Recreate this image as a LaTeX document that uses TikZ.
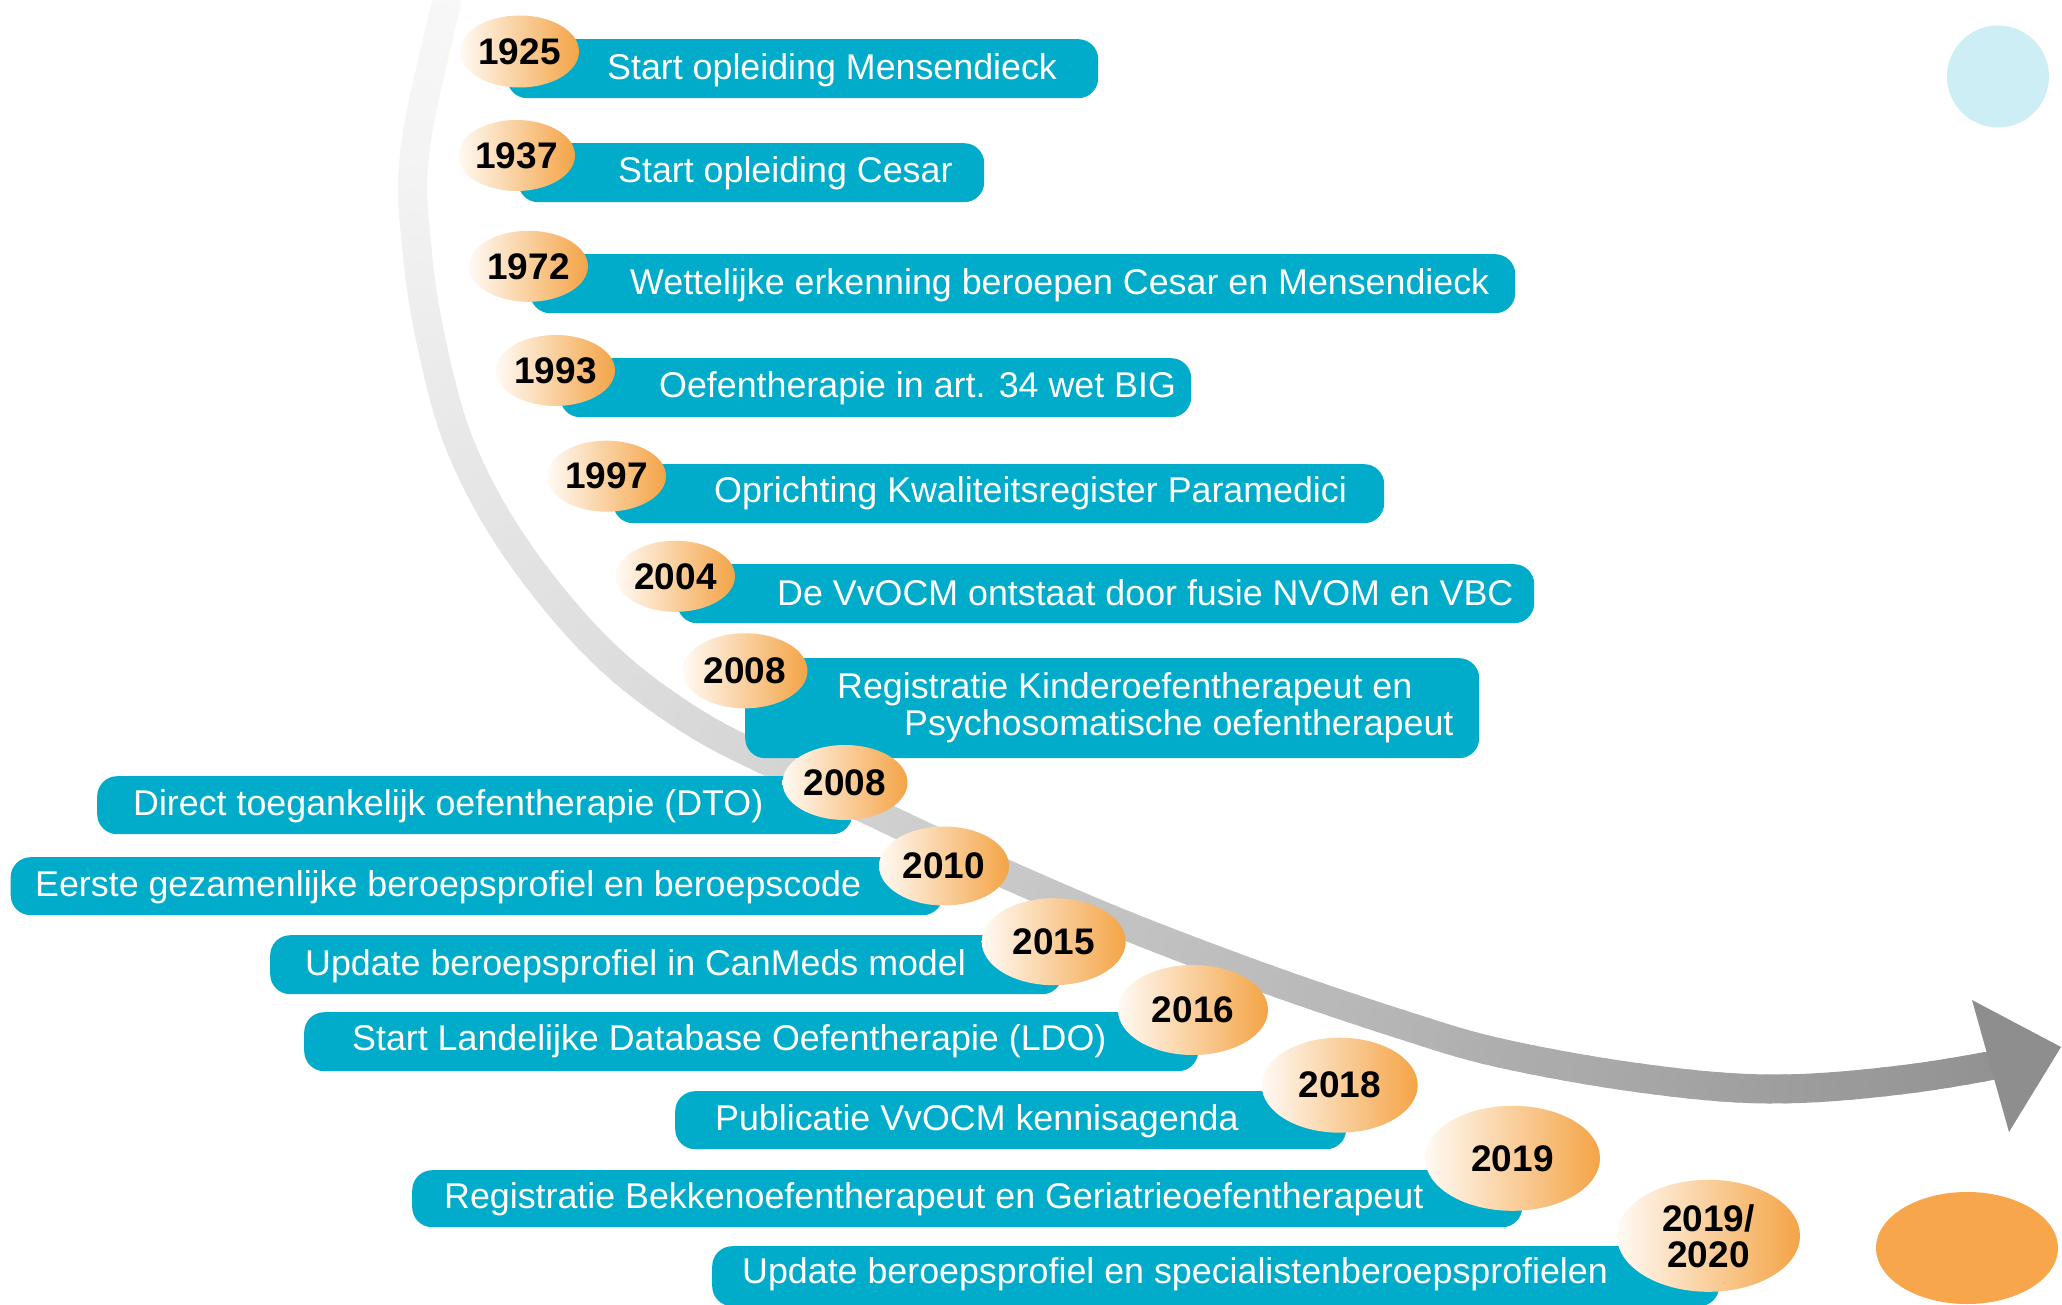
\documentclass[tikz,border=0pt]{standalone}
\usepackage{fontspec}
\setmainfont{Liberation Sans}
\usetikzlibrary{shapes.geometric}
\definecolor{boxcyan}{HTML}{00ACC9}
\definecolor{orL}{HTML}{FFFAF4}
\definecolor{orR}{HTML}{F4A446}
\definecolor{orSolid}{HTML}{F7A64B}
\definecolor{lightcyan}{HTML}{CEEEF5}
\definecolor{headgray}{HTML}{8E8E8E}
\tikzset{
  evbox/.style={fill=boxcyan, draw=none, rounded corners=20pt, inner sep=0pt, anchor=north west},
  evtext/.style={text=white, font=\fontsize{35.8}{42}\selectfont, anchor=base west, inner sep=0pt},
  yearell/.style={ellipse, inner sep=0pt, left color=orL, right color=orR, text=black,
     font=\bfseries\fontsize{37}{36}\selectfont, align=center},
}
\def\PX{{475,447,415,417,433,462,517,600,690,790,917,1010,1127,1267,1400,1500,1640,1769,1900,2030,2150}}
\def\PY{{-120,0,150,250,350,450,550,650,720,772,833,876,926,979,1024,1053,1078,1089,1080,1058,1030}}
\newcommand{\bandpt}[3]{%
  \pgfmathsetmacro{\bpA}{#3[#1-1]}%
  \pgfmathsetmacro{\bpB}{#3[#1]}%
  \pgfmathsetmacro{\bpC}{#3[#1+1]}%
  \pgfmathsetmacro{\bpD}{#3[#1+2]}%
  \pgfmathparse{0.5*(2*\bpB + (\bpC-\bpA)*#2 + (2*\bpA-5*\bpB+4*\bpC-\bpD)*#2*#2 + (3*\bpB-\bpA-3*\bpC+\bpD)*#2*#2*#2)}%
}
\begin{document}
\begin{tikzpicture}[x=1pt,y=-1pt]
\useasboundingbox (0,0) rectangle (2062,1305);
\fill[white] (0,0) rectangle (2062,1305);

% curved timeline band (gradient by pieces)
\foreach \s in {1,...,18}{
  \foreach \k in {0,...,7}{
    \pgfmathsetmacro{\ta}{\k/8}
    \pgfmathsetmacro{\tb}{(\k+1)/8}
    \bandpt{\s}{\ta}{\PX}\let\xa\pgfmathresult
    \bandpt{\s}{\ta}{\PY}\let\ya\pgfmathresult
    \bandpt{\s}{\tb}{\PX}\let\xb\pgfmathresult
    \bandpt{\s}{\tb}{\PY}\let\yb\pgfmathresult
    \pgfmathsetmacro{\f}{((\s-1)*8+\k)/143}
    \pgfmathtruncatemacro{\gv}{248-60*\f-43*\f*\f}
    \draw[line width=29pt, line cap=round, draw={rgb,255:red,\gv;green,\gv;blue,\gv}] (\xa,\ya) -- (\xb,\yb);
  }
}
\coordinate (hA) at (1972,1000);
\coordinate (hTip) at (2061,1047);
\coordinate (hB) at (2009,1132);
\fill[headgray] (hA) -- (hTip) -- (hB) -- cycle;

% decorative shapes
\node[circle, fill=lightcyan, minimum size=102pt, inner sep=0pt] (deco1) at (1998,76.5) {};
\node[ellipse, fill=orSolid, minimum width=182pt, minimum height=112pt, inner sep=0pt] (deco2) at (1967,1248) {};

% boxes
\node[evbox, minimum width=591pt, minimum height=59pt] (b1) at (507,39) {};
\node[evbox, minimum width=466pt, minimum height=59pt] (b2) at (518,143) {};
\node[evbox, minimum width=985pt, minimum height=59pt] (b3) at (530,254) {};
\node[evbox, minimum width=631pt, minimum height=59pt] (b4) at (560,358) {};
\node[evbox, minimum width=771pt, minimum height=59pt] (b5) at (613,464) {};
\node[evbox, minimum width=857pt, minimum height=59pt] (b6) at (677,564) {};
\node[evbox, minimum width=734pt, minimum height=100pt] (b7) at (745,658) {};
\node[evbox, minimum width=755pt, minimum height=58pt] (b8) at (97,776) {};
\node[evbox, minimum width=932pt, minimum height=58pt] (b9) at (10.5,857) {};
\node[evbox, minimum width=792pt, minimum height=59pt] (b10) at (270,935) {};
\node[evbox, minimum width=894pt, minimum height=59pt] (b11) at (304,1012) {};
\node[evbox, minimum width=671pt, minimum height=58pt] (b12) at (675,1091) {};
\node[evbox, minimum width=1110pt, minimum height=57pt] (b13) at (412,1170) {};
\node[evbox, minimum width=1007pt, minimum height=60pt] (b14) at (712,1246) {};

% texts
\node[evtext] (t1) at (607,80) {Start opleiding Mensendieck};
\node[evtext] (t2) at (618,183) {Start opleiding Cesar};
\node[evtext] (t3) at (630,295) {Wettelijke erkenning beroepen Cesar en Mensendieck};
\node[evtext] (t4) at (659,398) {Oefentherapie in art. 34 wet BIG};
\node[evtext] (t5) at (714,502) {Oprichting Kwaliteitsregister Paramedici};
\node[evtext] (t6) at (777,605) {De VvOCM ontstaat door fusie NVOM en VBC};
\node[evtext] (t7a) at (837,698) {Registratie Kinderoefentherapeut en};
\node[evtext] (t7b) at (904,735) {Psychosomatische oefentherapeut};
\node[evtext] (t8) at (133,815) {Direct toegankelijk oefentherapie (DTO)};
\node[evtext] (t9) at (35,896) {Eerste gezamenlijke beroepsprofiel en beroepscode};
\node[evtext] (t10) at (305,975) {Update beroepsprofiel in CanMeds model};
\node[evtext] (t11) at (352,1050) {Start Landelijke Database Oefentherapie (LDO)};
\node[evtext] (t12) at (715,1130) {Publicatie VvOCM kennisagenda};
\node[evtext] (t13) at (444,1208) {Registratie Bekkenoefentherapeut en Geriatrieoefentherapeut};
\node[evtext] (t14) at (742,1283) {Update beroepsprofiel en specialistenberoepsprofielen};

% year ellipses
\node[yearell, minimum width=119pt, minimum height=72pt] (y1) at (519.5,51.5) {1925};
\node[yearell, minimum width=117pt, minimum height=71pt] (y2) at (516.5,155.5) {1937};
\node[yearell, minimum width=119pt, minimum height=71pt] (y3) at (528.5,266.3) {1972};
\node[yearell, minimum width=119pt, minimum height=71pt] (y4) at (555.5,370.5) {1993};
\node[yearell, minimum width=119pt, minimum height=71pt] (y5) at (606.5,476.2) {1997};
\node[yearell, minimum width=119pt, minimum height=71pt] (y6) at (675.5,576.3) {2004};
\node[yearell, minimum width=125pt, minimum height=75pt] (y7) at (745,670.8) {2008};
\node[yearell, minimum width=125pt, minimum height=75pt] (y8) at (845,782.5) {2008};
\node[yearell, minimum width=130pt, minimum height=79pt] (y9) at (944,866) {2010};
\node[yearell, minimum width=144pt, minimum height=87pt] (y10) at (1053.7,941.7) {2015};
\node[yearell, minimum width=150pt, minimum height=90pt] (y11) at (1193,1010) {2016};
\node[yearell, minimum width=156pt, minimum height=95pt] (y12) at (1339.7,1085.2) {2018};
\node[yearell, minimum width=175pt, minimum height=105pt] (y13) at (1512.5,1158.3) {2019};
\node[yearell, minimum width=183pt, minimum height=112pt] (y14) at (1708.5,1235.8) {2019/\\2020};
\end{tikzpicture}
\end{document}
